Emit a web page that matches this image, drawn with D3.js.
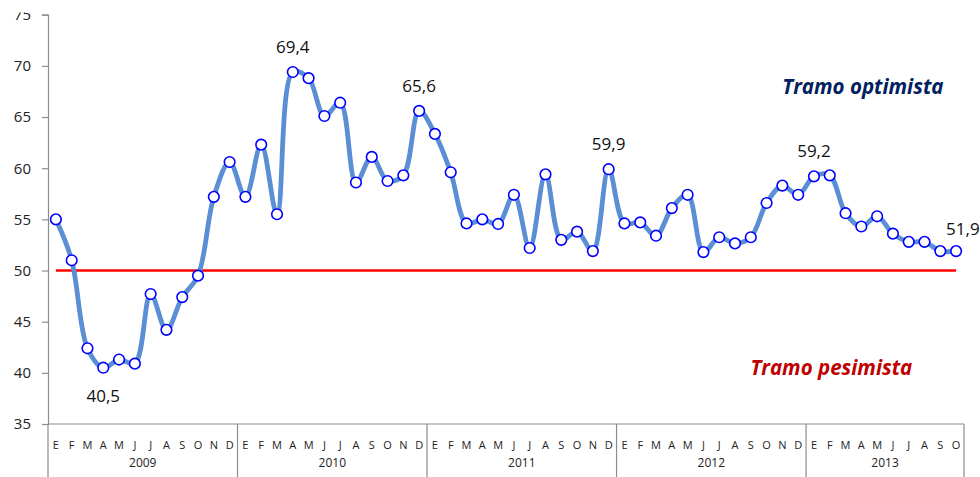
<!DOCTYPE html>
<html><head><meta charset="utf-8">
<script src="https://cdn.jsdelivr.net/npm/d3@7"></script>
<style>body{margin:0;background:#fff}svg{display:block}text{font-family:"Open Sans",sans-serif}</style>
</head><body><svg id="c" width="980" height="477"></svg>
<script>
const monthLetters = ["E","F","M","A","M","J","J","A","S","O","N","D"];
const years = ["2009","2010","2011","2012","2013"];
const values = [
  55.0,51.0,42.4,40.5,41.3,40.9,47.7,44.2,47.4,49.5,57.2,60.6,
  57.2,62.3,55.5,69.4,68.8,65.1,66.4,58.6,61.1,58.75,59.3,65.6,
  63.35,59.6,54.6,55.0,54.55,57.4,52.2,59.4,53.0,53.8,51.9,59.9,
  54.6,54.7,53.4,56.1,57.4,51.8,53.25,52.65,53.25,56.6,58.3,57.4,
  59.2,59.3,55.6,54.3,55.3,53.6,52.8,52.8,51.9,51.9
];
const labeledIdx = [3,15,23,35,48,57];
const yTicks = [35,40,45,50,55,60,65,70,75];
const threshold = 50;
const zoneLabels = [{text:"Tramo optimista", color:"#002060", v:67.25, i:51.1},
                    {text:"Tramo pesimista", color:"#C00000", v:39.8, i:49.1}];

const svg = d3.select("#c");
const x = d3.scaleBand().domain(d3.range(values.length)).range([48,964]);
const y = d3.scaleLinear().domain([35,75]).range([424,14.7]);
const cx = i => x(i)+x.bandwidth()/2;
const axisColor = "#8c8c8c";

// y axis
const ya = svg.append("g").attr("transform","translate(48,0)")
  .call(d3.axisLeft(y).tickValues(yTicks).tickSize(6).tickPadding(11));
ya.select(".domain").attr("stroke",axisColor).attr("stroke-width",1.2);
ya.selectAll(".tick line").attr("stroke",axisColor).attr("stroke-width",1.2);
ya.selectAll(".tick text").attr("font-family","Open Sans").attr("font-size",15).attr("fill","#222");

// x axis line
svg.append("line").attr("x1",48).attr("x2",964).attr("y1",y(35)).attr("y2",y(35))
  .attr("stroke",axisColor).attr("stroke-width",1.2);
// year separators
d3.range(0, values.length, 12).forEach(i=>{
  svg.append("line").attr("x1",x(i)).attr("x2",x(i)).attr("y1",y(35)).attr("y2",477)
    .attr("stroke",axisColor).attr("stroke-width",1.2);
});
svg.append("line").attr("x1",964).attr("x2",964).attr("y1",y(35)).attr("y2",477)
  .attr("stroke",axisColor).attr("stroke-width",1.2);
// month letters
svg.append("g").selectAll("text").data(values).join("text")
  .attr("x",(d,i)=>cx(i)).attr("y",449).attr("text-anchor","middle")
  .attr("font-size",11).attr("fill","#222").text((d,i)=>monthLetters[i%12]);
// year labels
years.forEach((yr,k)=>{
  const i0 = k*12, i1 = Math.min(values.length, k*12+12);
  const xm = (x(i0) + (i1>=values.length ? 964 : x(i1)))/2;
  svg.append("text").attr("x",xm).attr("y",467).attr("text-anchor","middle")
    .attr("font-size",12).attr("fill","#222").text(yr);
});

// threshold line
svg.append("line").attr("x1",cx(0)).attr("x2",cx(values.length-1))
  .attr("y1",y(threshold)).attr("y2",y(threshold)).attr("stroke","#FF0000").attr("stroke-width",2.5);

// series line
const line = d3.line().x((d,i)=>cx(i)).y(d=>y(d)).curve(d3.curveCatmullRom.alpha(0.5));
svg.append("path").datum(values).attr("d",line).attr("fill","none")
  .attr("stroke","#5A8FD5").attr("stroke-width",4.8).attr("stroke-linejoin","round");
svg.append("g").selectAll("circle").data(values).join("circle")
  .attr("cx",(d,i)=>cx(i)).attr("cy",d=>y(d)).attr("r",5.3)
  .attr("fill","#fff").attr("stroke","#0000FF").attr("stroke-width",1.6);

// data labels
const fmt = v => d3.format(".1f")(v).replace(".",",");
labeledIdx.forEach(i=>{
  const v = values[i];
  const below = i===3;
  const last = i===values.length-1;
  svg.append("text")
    .attr("x", last ? cx(i)-10 : cx(i))
    .attr("y", below ? y(v)+34 : (last ? y(v)-16 : y(v)-19))
    .attr("text-anchor", last ? "start" : "middle")
    .attr("font-size",17).attr("fill","#111").text(fmt(v));
});

// zone labels
zoneLabels.forEach(z=>{
  svg.append("text").attr("x",cx(0)+ (z.i)*x.bandwidth()).attr("y",y(z.v))
    .attr("text-anchor","middle").attr("font-size",20.5).attr("font-weight","bold")
    .attr("font-style","italic").attr("fill",z.color).text(z.text);
});

// top crop of the image
svg.append("rect").attr("x",0).attr("y",0).attr("width",46).attr("height",12.5).attr("fill","#fff");
</script></body></html>
